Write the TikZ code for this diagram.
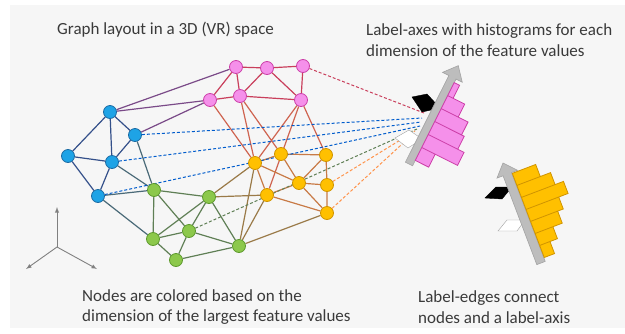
\documentclass[tikz,border=0pt]{standalone}
\usepackage{fontspec}
\setmainfont{Carlito}
\usetikzlibrary{backgrounds}
\definecolor{bggray}{HTML}{F6F6F6}
\definecolor{txtgray}{HTML}{3A3A3A}
\definecolor{bluefill}{HTML}{1EA3E6}
\definecolor{blueline}{HTML}{1D6BA3}
\definecolor{pinkfill}{HTML}{F590EA}
\definecolor{pinkline}{HTML}{CC3FA8}
\definecolor{orangefill}{HTML}{FFC000}
\definecolor{orangeline}{HTML}{D09400}
\definecolor{greenfill}{HTML}{8CC84B}
\definecolor{greenline}{HTML}{5E9A2E}
\definecolor{bluebar}{HTML}{34508A}
\definecolor{pinkbar}{HTML}{C93F5C}
\definecolor{orangebar}{HTML}{C87A46}
\definecolor{greenbar}{HTML}{5F7F55}
\definecolor{bpbar}{HTML}{7A4A88}
\definecolor{bgbar}{HTML}{4A6A78}
\definecolor{pobar}{HTML}{CF6450}
\definecolor{gobar}{HTML}{9A7A48}
\definecolor{axisgray}{HTML}{BDBDBD}
\definecolor{axisedge}{HTML}{A3A3A3}

\begin{document}
\begin{tikzpicture}[x=1pt,y=-1pt,
    vtx/.style={circle, line width=0.8pt, minimum size=13pt, inner sep=0pt},
    bnode/.style={vtx, fill=bluefill, draw=blueline},
    pnode/.style={vtx, fill=pinkfill, draw=pinkline},
    onode/.style={vtx, fill=orangefill, draw=orangeline},
    gnode/.style={vtx, fill=greenfill, draw=greenline},
    link/.style={line width=1.2pt},
    labeledge/.style={line width=1pt, dash pattern=on 3pt off 2pt},
    shaft/.style={fill=axisgray, draw=axisedge, line width=0.6pt},
    txt/.style={font=\fontsize{17}{20.5}\selectfont, text=txtgray, inner sep=0pt, align=left}]
  \useasboundingbox (0,0) rectangle (625,333);

  % graph nodes
  \node[bnode] (b1) at (110,112) {};
  \node[bnode] (b2) at (135,135) {};
  \node[bnode] (b3) at (68,156) {};
  \node[bnode] (b4) at (112,162) {};
  \node[bnode] (b5) at (98,196) {};
  \node[pnode] (p1) at (236,67) {};
  \node[pnode] (p2) at (267,68) {};
  \node[pnode] (p3) at (303,66) {};
  \node[pnode] (p4) at (210,100) {};
  \node[pnode] (p5) at (240,96) {};
  \node[pnode] (p6) at (301,100) {};
  \node[onode] (o1) at (255,163) {};
  \node[onode] (o2) at (281,154) {};
  \node[onode] (o3) at (326,155) {};
  \node[onode] (o4) at (299,183) {};
  \node[onode] (o5) at (327,185) {};
  \node[onode] (o6) at (267,195) {};
  \node[onode] (o7) at (327,213) {};
  \node[gnode] (g1) at (154,190) {};
  \node[gnode] (g2) at (209,197) {};
  \node[gnode] (g3) at (153,239) {};
  \node[gnode] (g4) at (189,231) {};
  \node[gnode] (g5) at (176,260) {};
  \node[gnode] (g6) at (239,246) {};

  % ends of the label-edges
  \coordinate (rin) at (424,113);
  \coordinate (bin1) at (422,118);
  \coordinate (bin2) at (421,122);
  \coordinate (bin3) at (420,126);
  \coordinate (gin) at (417,129);
  \coordinate (oin1) at (415,131);
  \coordinate (oin2) at (412,135);

  \begin{pgfonlayer}{background}
    \fill[white] (0,0) rectangle (625,333);
    \fill[bggray] (10,5) rectangle (625,328);
    \draw[link, bluebar] (b1) -- (b2) (b1) -- (b3) (b1) -- (b4) (b2) -- (b4)
      (b3) -- (b4) (b3) -- (b5) (b4) -- (b5);
    \draw[link, bpbar] (b1) -- (p1) (b1) -- (p4) (b2) -- (p4);
    \draw[link, bgbar] (b2) -- (g1) (b4) -- (g1) (b5) -- (g1) (b5) -- (g3);
    \draw[link, pinkbar] (p1) -- (p2) (p2) -- (p3) (p1) -- (p4) (p1) -- (p5)
      (p2) -- (p5) (p2) -- (p6) (p3) -- (p6) (p4) -- (p5) (p5) -- (p6);
    \draw[link, pobar] (p4) -- (o1) (p5) -- (o1) (p5) -- (o2) (p6) -- (o1)
      (p6) -- (o6) (p6) -- (o3);
    \draw[link, orangebar] (o1) -- (o2) (o2) -- (o3) (o1) -- (o4) (o2) -- (o4)
      (o3) -- (o4) (o3) -- (o5) (o4) -- (o5) (o4) -- (o6) (o1) -- (o6)
      (o4) -- (o7) (o5) -- (o7) (o6) -- (o7);
    \draw[link, gobar] (g2) -- (o1) (g2) -- (o6) (g6) -- (o1) (g6) -- (o6)
      (g6) -- (o7);
    \draw[link, greenbar] (g1) -- (g2) (g1) -- (g3) (g1) -- (g4) (g2) -- (g3)
      (g2) -- (g4) (g2) -- (g6) (g3) -- (g4) (g3) -- (g5) (g4) -- (g5)
      (g4) -- (g6) (g5) -- (g6);
    % label-edges
    \draw[labeledge, pinkbar] (p3) -- (rin);
    \draw[labeledge, blue!55!cyan!80!black] (b2) -- (bin1) (b4) -- (bin2) (b5) -- (bin3);
    \draw[labeledge, greenbar] (g4) -- (gin);
    \draw[labeledge, orange!80!red!70] (o5) -- (oin1) (o7) -- (oin2);
  \end{pgfonlayer}

  % label-axis for the pink dimension
  \draw[fill=black, draw=black] (412,97) -- (427,94) -- (440,108) -- (422,112) -- cycle;
  \draw[fill=white, draw=axisedge] (395,138) -- (409,130) -- (422,139) -- (408,148) -- cycle;
  \begin{scope}[shift={(409,164)}, rotate=63.4]
    \draw[shaft] (0,-4) -- (97,-4) -- (97,-11) -- (110,0) -- (97,11) -- (97,4) -- (0,4) -- cycle;
    \draw[fill=pinkfill, draw=pinkline, line width=0.8pt]
      (6,4) rectangle (20.5,19) (20.5,4) rectangle (35,44) (35,4) rectangle (49.5,37)
      (49.5,4) rectangle (64,34) (64,4) rectangle (78.5,23) (78.5,4) rectangle (93,10);
  \end{scope}

  % label-axis for the orange dimension
  \draw[fill=black, draw=black] (485,198) -- (496,187) -- (512,187) -- (502,199) -- cycle;
  \draw[fill=white, draw=axisedge] (498,231) -- (507,220) -- (525,220) -- (517,231) -- cycle;
  \begin{scope}[shift={(541,263)}, rotate=110.8]
    \draw[shaft] (0,-4.5) -- (95,-4.5) -- (95,-11) -- (107,0) -- (95,11) -- (95,4.5) -- (0,4.5) -- cycle;
    \draw[fill=orangefill, draw=orangeline, line width=0.8pt]
      (4,5) rectangle (16.9,16) (16.9,5) rectangle (29.7,24) (29.7,5) rectangle (42.6,34)
      (42.6,5) rectangle (55.4,40) (55.4,5) rectangle (68.3,50) (68.3,5) rectangle (81.1,41)
      (81.1,5) rectangle (94,30);
  \end{scope}

  % 3D axes
  \coordinate (origin) at (57,247);
  \coordinate (zend) at (57,207);
  \coordinate (xend) at (26,269);
  \coordinate (yend) at (97,269);
  \draw[->, >=latex, gray, line width=0.9pt] (origin) -- (zend);
  \draw[->, >=latex, gray, line width=0.9pt] (origin) -- (xend);
  \draw[->, >=latex, gray, line width=0.9pt] (origin) -- (yend);

  % captions
  \node[txt, anchor=west] (graphlbl) at (57,30) {Graph layout in a 3D (VR) space};
  \node[txt, anchor=west] (axislbl) at (366,40) {Label-axes with histograms for each\\dimension of the feature values};
  \node[txt, anchor=west] (colorlbl) at (82,307) {Nodes are colored based on the\\dimension of the largest feature values};
  \node[txt, anchor=west] (edgelbl) at (418,307) {Label-edges connect\\nodes and a label-axis};
\end{tikzpicture}
\end{document}
